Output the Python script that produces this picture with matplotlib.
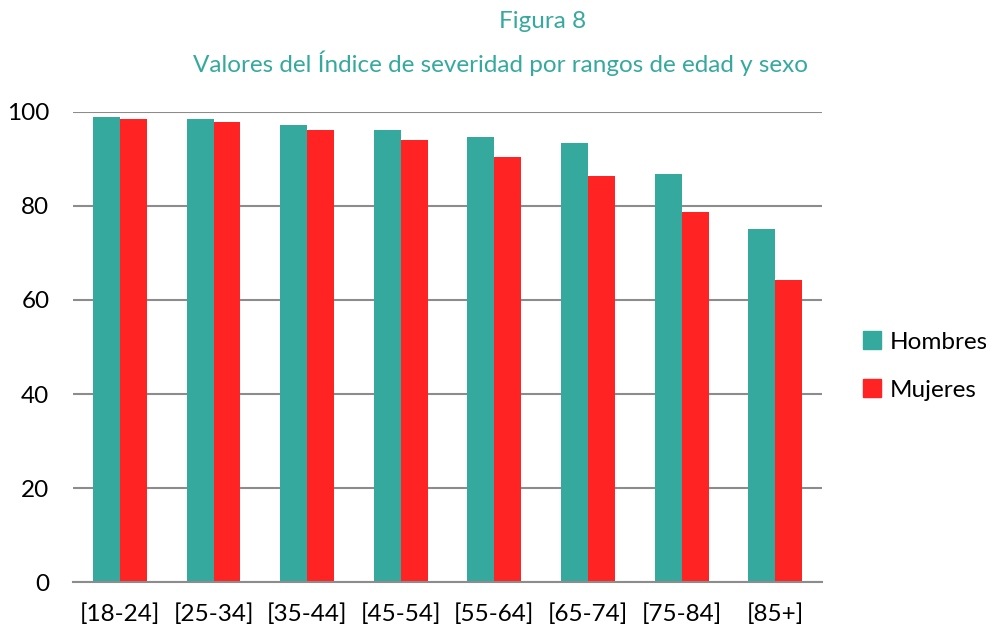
import numpy as np
import matplotlib
matplotlib.use('Agg')
import matplotlib.pyplot as plt
from matplotlib.patches import Patch

# ── Data ──────────────────────────────────────────────────────────────────────
categories = ['[18-24]', '[25-34]', '[35-44]', '[45-54]',
              '[55-64]', '[65-74]', '[75-84]', '[85+]']
hombres = [98.8, 98.4, 97.2, 96.1, 94.6, 93.3, 86.7, 75.1]
mujeres = [98.4, 97.9, 96.1, 93.9, 90.4, 86.3, 78.7, 64.2]
yticks = [0, 20, 40, 60, 80, 100]

TEAL = '#36A99E'
RED = '#FF2323'
FONT = 'Lato'

# ── Plot ──────────────────────────────────────────────────────────────────────
fig = plt.figure(figsize=(9.87, 6.28), dpi=100)
ax = fig.add_axes([0.074, 0.073, 0.759, 0.749])

x = np.arange(len(categories))
width = 0.288
ax.bar(x - width/2, hombres, width, color=TEAL, label='Hombres', zorder=3)
ax.bar(x + width/2, mujeres, width, color=RED, label='Mujeres', zorder=3)

ax.set_xlim(-0.5, len(categories) - 0.5)
ax.set_ylim(0, 100)
ax.set_yticks(yticks)
ax.set_yticklabels([str(t) for t in yticks], fontsize=17.5, family=FONT)
ax.set_xticks(x)
ax.set_xticklabels(categories, fontsize=17.5, family=FONT)
ax.tick_params(length=0)
ax.tick_params(axis='y', pad=17)
ax.tick_params(axis='x', pad=15)
ax.grid(axis='y', color='#8c8c8c', linewidth=1.5, zorder=0)
for s in ['left', 'right', 'top']:
    ax.spines[s].set_visible(False)
ax.spines['bottom'].set_color('#8c8c8c')
ax.spines['bottom'].set_linewidth(1.5)
ax.spines['bottom'].set_zorder(4)

handles = [Patch(color=TEAL), Patch(color=RED)]
fig.legend(handles, ['Hombres', 'Mujeres'], loc='center left',
           bbox_to_anchor=(0.874, 0.417), frameon=False,
           prop={'family': FONT, 'size': 17.5}, handlelength=0.75, handleheight=0.75,
           handletextpad=0.35, labelspacing=1.1, borderpad=0, borderaxespad=0)

fig.text(0.55, 0.965, 'Figura 8', ha='center', va='center',
         fontsize=17.5, color=TEAL, family=FONT)
fig.text(0.507, 0.9, 'Valores del Índice de severidad por rangos de edad y sexo',
         ha='center', va='center', fontsize=17.5, color=TEAL, family=FONT)

fig.savefig('out.png', dpi=100)
